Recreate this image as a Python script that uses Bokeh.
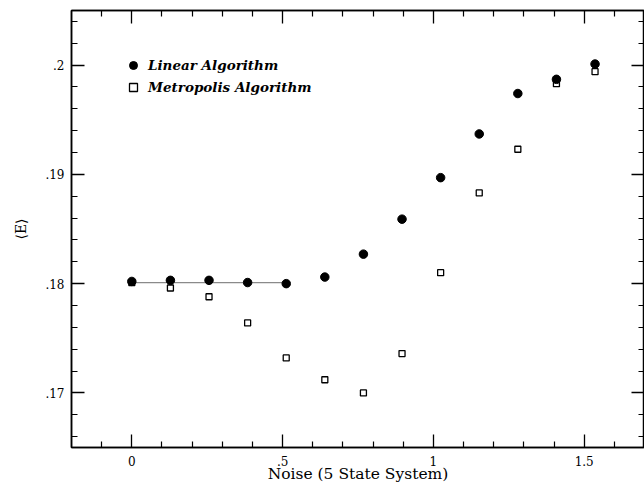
from bokeh.plotting import figure
from bokeh.models import FixedTicker, LinearAxis, Legend, LegendItem, Range1d
from bokeh.embed import file_html
from bokeh.resources import INLINE

# ---- data ----
noise = [0.0, 0.128, 0.256, 0.384, 0.512, 0.640, 0.768, 0.896, 1.024, 1.152, 1.280, 1.408, 1.536]
linear_E = [0.1802, 0.1803, 0.1803, 0.1801, 0.1800, 0.1806, 0.1827, 0.1859, 0.1897, 0.1937, 0.1974, 0.1987, 0.2001]
metropolis_E = [0.1801, 0.1796, 0.1788, 0.1764, 0.1732, 0.1712, 0.1700, 0.1736, 0.1810, 0.1883, 0.1923, 0.1983, 0.1994]
ref_x = [0.0, 0.512]
ref_y = [0.1801, 0.1801]

x_major = [0, 0.5, 1, 1.5]
x_labels = ["0", ".5", "1", "1.5"]
x_minor = [-0.1, 0.1, 0.2, 0.3, 0.4, 0.6, 0.7, 0.8, 0.9, 1.1, 1.2, 1.3, 1.4, 1.6]
y_major = [0.17, 0.18, 0.19, 0.2]
y_labels = [".17", ".18", ".19", ".2"]
y_minor = [0.166, 0.168, 0.172, 0.174, 0.176, 0.178, 0.182, 0.184, 0.186, 0.188,
           0.192, 0.194, 0.196, 0.198, 0.202, 0.204]

FONT = "DejaVu Serif"

p = figure(width=644, height=485, x_range=Range1d(-0.2, 1.7), y_range=Range1d(0.165, 0.205),
           output_backend="svg", toolbar_location=None,
           min_border_left=71, min_border_right=0, min_border_top=10, min_border_bottom=38)
p.xgrid.visible = False
p.ygrid.visible = False
p.outline_line_color = "black"
p.outline_line_width = 1.5
p.background_fill_color = "white"
p.border_fill_color = "white"

xt = FixedTicker(ticks=x_major, minor_ticks=x_minor)
yt = FixedTicker(ticks=y_major, minor_ticks=y_minor)

def style_axis(ax):
    ax.major_tick_in = 13
    ax.major_tick_out = 0
    ax.minor_tick_in = 6
    ax.minor_tick_out = 0
    ax.major_tick_line_color = "black"
    ax.minor_tick_line_color = "black"
    ax.major_tick_line_width = 1.3
    ax.minor_tick_line_width = 1.2
    ax.axis_line_color = "black"
    ax.axis_line_width = 1.5
    ax.major_label_text_font = FONT
    ax.major_label_text_color = "black"
    ax.axis_label_text_font = FONT
    ax.axis_label_text_font_style = "normal"
    ax.axis_label_text_color = "black"
    ax.major_label_text_font_size = "12px"

xa = p.xaxis[0]
xa.ticker = xt
xa.major_label_overrides = {v: s for v, s in zip(x_major, x_labels)}
style_axis(xa)
xa.major_label_standoff = 8
xa.axis_label = "Noise (5 State System)"
xa.axis_label_text_font_size = "15.5px"
xa.axis_label_standoff = -4

ya = p.yaxis[0]
ya.ticker = yt
ya.major_label_overrides = {v: s for v, s in zip(y_major, y_labels)}
style_axis(ya)
ya.major_label_standoff = 7
ya.axis_label = "⟨E⟩"
ya.axis_label_text_font_size = "14px"
ya.axis_label_standoff = 13

# frame-side axes carrying only ticks
top = LinearAxis(ticker=xt)
style_axis(top)
top.major_label_overrides = {v: "" for v in x_major}
top.major_label_text_font_size = "1px"
top.major_label_standoff = 0
p.add_layout(top, "above")
right = LinearAxis(ticker=yt)
style_axis(right)
right.major_label_overrides = {v: "" for v in y_major}
right.major_label_text_font_size = "1px"
right.major_label_standoff = 0
p.add_layout(right, "right")

p.line(ref_x, ref_y, line_color="#8a8a8a", line_width=1.2)
r2 = p.scatter(noise, metropolis_E, marker="square", size=6, fill_color="white",
               line_color="black", line_width=1.3)
r1 = p.scatter(noise, linear_E, marker="circle", size=8.5, fill_color="black", line_color="black")

legend = Legend(items=[LegendItem(label="Linear Algorithm", renderers=[r1]),
                       LegendItem(label="Metropolis Algorithm", renderers=[r2])],
                location=(47, 345))
legend.label_text_font = FONT
legend.label_text_font_style = "bold italic"
legend.label_text_font_size = "13.5px"
legend.label_text_color = "black"
legend.border_line_alpha = 0
legend.background_fill_alpha = 0
legend.glyph_width = 20
legend.glyph_height = 20
legend.label_height = 20
legend.spacing = 2
legend.padding = 5
legend.label_standoff = 5
p.add_layout(legend)

html = file_html(p, INLINE)
html = html.replace("<head>", "<head><style>html,body{overflow:hidden;}</style>", 1)
open("out.html", "w").write(html)
